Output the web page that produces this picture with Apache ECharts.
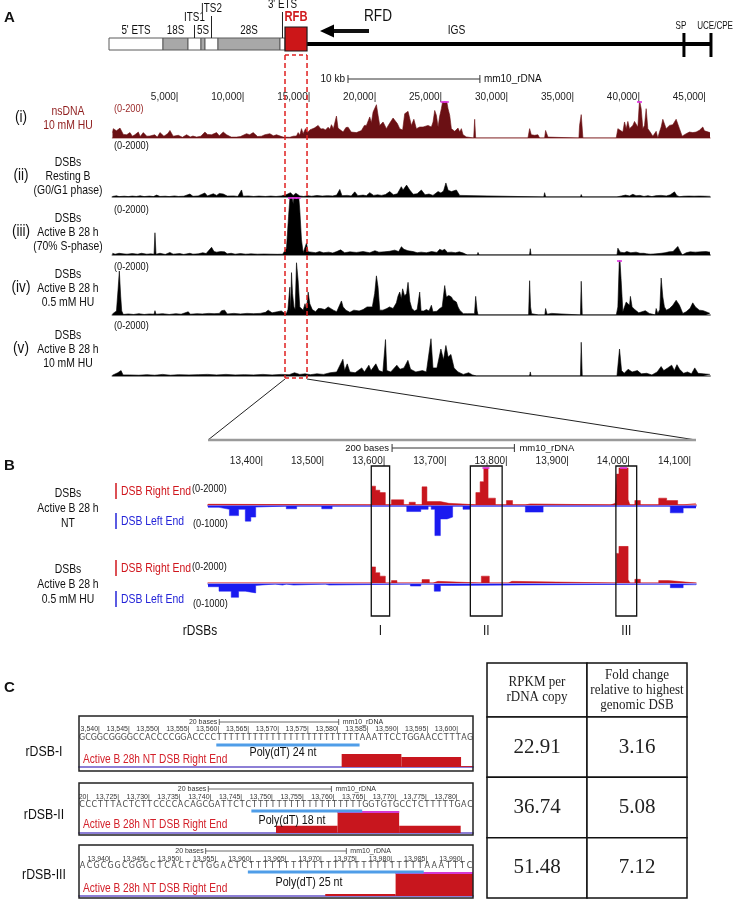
<!DOCTYPE html>
<html>
<head>
<meta charset="utf-8">
<title>rDNA DSBs</title>
<script src="https://cdn.jsdelivr.net/npm/echarts@6.0.0/dist/echarts.min.js"></script>
<style>
html,body{margin:0;padding:0;background:#ffffff;}
#chart{width:733px;height:900px;}
</style>
</head>
<body>
<div id="chart"></div>
<script>
const FONT = "'Liberation Sans', Arial, sans-serif";
const SERIF = "'Liberation Serif', 'Times New Roman', serif";
const SEQFONT = "'DejaVu Sans', 'Liberation Sans', sans-serif";

// ================= DATA =================
// Panel A: rDNA unit map (bp)
const rDNALength = 45306;
const schemName  = ["5' ETS", "18S", "ITS1", "5S", "ITS2", "28S", "3' ETS", "RFB"];
const schemStart = [-265, 3830, 5725, 6710, 7015, 8000, 12700, 13080];
const schemEnd   = [3830, 5725, 6710, 7015, 8000, 12700, 13080, 14750];
const schemKind  = ['spacer', 'rRNA', 'spacer', 'rRNA', 'spacer', 'rRNA', 'spacer', 'RFB'];
const igsSpan = [14750, 45380];
const elementName = ['SP', 'UCE/CPE'];
const elementPos  = [43330, 45380];

// Panel A tracks: [bp, signal]
const nsDNA_10mM_HU = [[0,30],[63,52],[300,40],[569,55],[821,20],[1074,18],[1200,8],[1326,30],[1500,10],[1700,18],[1957,33],[2100,8],[2336,30],[2600,10],[2841,11],[3200,18],[3400,5],[3599,30],[3900,10],[4200,25],[4356,42],[4600,10],[4987,15],[5300,4],[5619,18],[5900,6],[6100,11],[6376,5],[6700,10],[7007,33],[7200,20],[7512,18],[7891,30],[8100,12],[8396,33],[8649,18],[9000,5],[9406,5],[9700,8],[10164,24],[10400,18],[10668,30],[11000,8],[11300,10],[11552,18],[11931,24],[12200,12],[12436,18],[12941,5],[13446,4],[13700,10],[13951,11],[14077,30],[14200,15],[14330,52],[14456,24],[14633,52],[14800,30],[14961,45],[15300,55],[15592,70],[15800,50],[15971,52],[16150,45],[16350,60],[16480,48],[16602,74],[16750,52],[16981,122],[17100,55],[17486,33],[17700,58],[17865,60],[18100,33],[18496,30],[18875,41],[19100,70],[19254,70],[19506,117],[19630,85],[19759,144],[20011,185],[20137,126],[20264,70],[20516,89],[20769,52],[21000,80],[21274,111],[21400,122],[21600,80],[21779,52],[22000,44],[22157,135],[22300,125],[22410,148],[22663,70],[22850,104],[23041,52],[23296,61],[23549,61],[23675,52],[23927,70],[24180,61],[24306,89],[24432,153],[24559,126],[24685,61],[24811,122],[24937,163],[25064,215],[25316,215],[25442,163],[25569,126],[25695,52],[25821,61],[25947,37],[26074,43],[26200,55],[26326,33],[26453,52],[26579,18],[26831,6],[26957,0],[27387,0],[27462,104],[27538,0],[31502,0],[31628,52],[31755,18],[32007,15],[32260,18],[32386,0],[32765,0],[32840,42],[33017,5],[33093,0],[35365,0],[35416,70],[35542,130],[35669,0],[38194,0],[38320,52],[38446,61],[38699,33],[38825,89],[38951,52],[39077,92],[39204,52],[39456,70],[39582,92],[39709,98],[39835,61],[39962,210],[40088,163],[40214,52],[40340,70],[40466,163],[40592,52],[40769,33],[40970,10],[41097,0],[41223,37],[41349,0],[41476,33],[41602,61],[41728,104],[41981,52],[42234,70],[42486,74],[42739,104],[42991,52],[43193,10],[43294,0],[43496,24],[43749,33],[44001,30],[44254,33],[44506,43],[44759,61],[44885,40],[45306,30]];

const dsb_RestingB = [[0,20],[300,45],[500,15],[900,30],[1200,15],[1500,35],[1800,20],[2100,45],[2400,15],[2800,35],[3100,15],[3350,70],[3600,20],[4000,30],[4300,15],[4700,40],[5000,20],[5400,30],[5870,110],[6100,25],[6500,40],[7000,150],[7200,40],[7640,120],[7900,60],[8100,130],[8400,110],[8700,35],[9200,40],[9500,20],[9785,260],[9900,30],[10300,40],[10700,20],[11100,35],[11600,20],[12000,35],[12400,20],[12800,40],[13200,90],[13500,160],[13700,60],[13900,140],[14200,40],[14500,20],[14800,50],[15100,30],[15500,55],[15900,35],[16300,50],[16700,40],[17000,70],[17234,280],[17400,50],[17800,60],[18100,40],[18370,190],[18600,50],[19000,70],[19250,50],[19506,160],[19800,60],[20100,80],[20400,60],[20700,90],[21021,200],[21300,80],[21600,120],[21900,380],[22031,260],[22300,440],[22536,260],[22800,100],[23100,120],[23420,260],[23700,80],[24000,110],[24300,60],[24685,200],[24900,150],[25100,220],[25280,520],[25450,250],[25700,200],[25821,200],[26074,260],[26326,60],[26453,0],[32700,0],[32765,160],[32850,0],[35480,0],[35542,90],[35620,0],[38250,0],[38320,50],[38600,40],[38900,70],[39200,40],[39456,100],[39700,50],[40000,60],[40300,20],[40600,50],[40900,15],[41200,50],[41600,60],[42000,40],[42300,80],[42612,190],[42800,50],[43000,10],[43300,30],[43700,35],[44100,30],[44500,35],[44900,30],[45306,25]];

const dsb_ActiveB_Sphase = [[0,60],[200,30],[500,60],[800,40],[1100,30],[1500,50],[1900,30],[2200,60],[2600,30],[2900,40],[3150,30],[3220,780],[3300,30],[3600,60],[4000,20],[4350,90],[4600,30],[5100,50],[5400,20],[5870,60],[6100,30],[6500,40],[6850,80],[7100,50],[7512,270],[7700,120],[7900,100],[8200,120],[8500,110],[8700,40],[9000,60],[9300,30],[9700,50],[10100,30],[10500,40],[11000,30],[11500,35],[12000,30],[12500,25],[12900,30],[13193,240],[13350,1360],[13500,2300],[13700,1800],[13825,2300],[13951,2000],[14077,2300],[14200,1590],[14330,530],[14456,80],[14600,150],[14709,420],[14830,110],[15100,100],[15400,80],[15700,120],[16000,80],[16400,100],[16700,70],[17000,120],[17300,180],[17600,80],[18000,110],[18500,90],[19000,120],[19500,80],[19900,150],[20200,100],[20600,110],[21000,130],[21400,170],[21700,120],[21905,290],[22100,200],[22400,150],[22800,120],[23100,80],[23400,100],[23800,80],[24200,120],[24600,90],[24811,200],[25000,160],[25190,200],[25400,90],[25700,100],[26000,80],[26300,110],[26600,70],[26900,0],[27650,0],[27715,90],[27800,0],[31620,0],[31680,220],[31740,0],[32850,0],[32891,70],[32950,0],[35500,0],[35542,70],[35600,0],[38250,0],[38320,240],[38500,100],[38800,80],[39000,120],[39300,80],[39700,100],[40000,60],[40300,60],[40500,40],[40800,30],[41200,40],[41600,60],[41900,80],[42200,110],[42500,120],[42612,180],[42865,300],[43000,170],[43200,0],[43500,80],[43800,110],[44200,100],[44600,110],[45000,120],[45306,100]];

const dsb_ActiveB_05mM_HU = [[0,40],[300,150],[430,1000],[518,1630],[620,700],[700,150],[821,20],[1200,40],[1600,20],[2000,50],[2400,20],[2800,40],[3150,30],[3220,160],[3300,30],[3800,50],[4300,20],[4800,50],[5200,30],[5745,120],[5900,30],[6400,50],[6800,40],[7300,60],[7700,50],[8100,60],[8270,160],[8500,180],[8700,40],[9200,60],[9700,40],[10200,60],[10700,50],[11200,60],[11600,100],[11805,180],[11931,240],[12100,80],[12500,120],[12800,150],[13000,80],[13193,60],[13300,200],[13446,1030],[13510,150],[13572,1570],[13650,800],[13760,300],[13850,200],[13951,1935],[14077,1270],[14200,300],[14330,300],[14456,180],[14600,420],[14709,200],[14835,850],[14961,420],[15150,200],[15400,120],[15600,240],[15800,240],[16100,200],[16350,300],[16500,240],[16750,180],[17000,120],[17360,520],[17486,300],[17700,180],[18000,100],[18300,180],[18700,150],[19000,200],[19300,300],[19700,300],[19880,800],[20011,1450],[20137,1030],[20264,180],[20500,180],[20800,240],[21000,300],[21274,240],[21526,450],[21650,700],[21779,850],[21900,600],[22000,970],[22150,700],[22300,800],[22410,1210],[22550,500],[22700,240],[22900,150],[23100,200],[23293,850],[23400,150],[23600,150],[23800,200],[24000,150],[24180,360],[24300,120],[24600,140],[24811,240],[25000,300],[25190,1090],[25316,670],[25500,720],[25695,670],[25821,560],[26074,480],[26200,300],[26326,180],[26600,50],[26900,50],[27450,50],[27538,690],[27650,150],[27720,0],[31550,0],[31628,1270],[31700,300],[31780,50],[32000,30],[32300,0],[32780,0],[32840,240],[32950,30],[33100,0],[33300,60],[33400,0],[35480,0],[35542,1250],[35620,0],[38200,0],[38320,300],[38446,2300],[38570,1270],[38700,120],[38951,480],[39077,545],[39204,360],[39270,690],[39400,300],[39600,200],[39900,80],[40150,120],[40400,160],[40700,60],[40950,30],[41150,0],[41223,240],[41349,60],[41500,200],[41602,1370],[41728,670],[41850,300],[42000,180],[42234,240],[42486,360],[42739,545],[42864,570],[42991,360],[43244,60],[43500,120],[43800,250],[43997,450],[44200,300],[44500,180],[44800,160],[45000,120],[45306,60]];

const dsb_ActiveB_10mM_HU = [[0,30],[400,120],[650,200],[800,40],[1300,40],[2000,30],[2600,50],[3200,30],[3800,60],[4400,30],[5000,50],[5800,40],[6500,50],[7200,60],[7900,40],[8600,60],[9300,40],[10000,50],[10700,40],[11400,60],[12100,40],[12800,60],[13400,50],[13800,120],[14200,60],[14600,80],[15000,50],[15500,80],[16000,60],[16500,120],[17000,150],[17470,620],[17600,200],[17800,450],[18000,150],[18400,120],[18900,300],[19100,150],[19440,400],[19600,200],[19970,450],[20200,200],[20500,150],[20700,1350],[20800,200],[21100,150],[21560,400],[21800,250],[22100,300],[22400,580],[22600,250],[23000,150],[23500,200],[23800,150],[24150,1380],[24300,300],[24600,300],[24900,1000],[25100,600],[25280,1130],[25450,700],[25660,800],[25900,300],[26200,150],[26600,60],[27000,120],[27300,40],[27600,0],[31620,0],[31680,150],[31740,0],[35480,0],[35542,1250],[35620,0],[38250,0],[38446,1000],[38600,200],[38800,100],[39100,250],[39400,150],[39800,200],[40100,80],[40500,100],[40900,40],[41300,150],[41600,350],[41800,200],[42100,300],[42400,400],[42600,200],[42800,420],[43000,250],[43300,100],[43600,150],[43900,80],[44150,300],[44400,100],[44800,80],[45306,60]];

const trackRangeMax = [200, 2000, 2000, 2000, 2000];

// Panel B: zoom on RFB region, step data [bp, reads]
const zoomRange = [13310, 14108];
const rightEnd_NT = [[13310,40],[13319,0],[13578,1020],[13584,800],[13591,670],[13600,0],[13610,280],[13630,0],[13639,150],[13649,0],[13660,980],[13668,185],[13690,90],[13704,0],[13707,55],[13727,0],[13748,670],[13755,1260],[13761,2300],[13768,370],[13780,0],[13798,240],[13808,0],[13829,60],[13837,0],[13968,90],[13976,0],[13978,1670],[13982,2300],[13997,300],[14000,0],[14008,240],[14017,0],[14047,370],[14060,240],[14078,0],[14087,90],[14108,90]];
const leftEnd_NT = [[13310,37],[13328,90],[13345,260],[13360,90],[13371,410],[13380,300],[13388,30],[13391,0],[13438,75],[13455,0],[13496,75],[13513,0],[13635,150],[13658,90],[13670,0],[13675,90],[13681,800],[13690,350],[13701,300],[13710,0],[13727,90],[13739,0],[13829,165],[13858,0],[14066,185],[14087,55],[14108,55]];
const rightEnd_HU = [[13310,0],[13578,870],[13584,555],[13591,370],[13600,0],[13610,130],[13619,0],[13660,185],[13672,0],[13678,90],[13686,0],[13757,370],[13770,0],[13801,90],[13807,0],[13978,1600],[13982,1980],[13997,190],[14000,0],[14008,200],[14017,0],[14047,130],[14063,90],[14078,0],[14108,0]];
const leftEnd_HU = [[13310,74],[13328,195],[13348,360],[13360,195],[13371,240],[13388,40],[13391,0],[13420,30],[13432,0],[13438,30],[13450,0],[13502,30],[13508,0],[13641,55],[13658,0],[13680,195],[13690,40],[13708,0],[14066,100],[14087,20],[14108,0]];
const rDSBName  = ['I', 'II', 'III'];
const rDSBStart = [13577, 13739, 13977];
const rDSBEnd   = [13607, 13791, 14011];

// Panel C: base-level views
const seqStart = [13538, 13720, 13937];
const seqText = [
  'GCGGCGGGGCCACCCCGGACCCCTTTTTTTTTTTTTTTTTTTTTTTTAAATTCCTGGAACCTTTAG',
  'CCCTTTACTCTTCCCCACAGCGATTCTCTTTTTTTTTTTTTTTTTTGGTGTGCCTCTTTTTGAC',
  'ACGCGGCGGGCTCACTCTGGACTCTTTTTTTTTTTTTTTTTTTTTTTTTAAATTTC'
];
const polyTStart = [13561, 13748, 13961];
const polyTEnd   = [13584, 13765, 13985];
const polyTLabel = ['Poly(dT) 24 nt', 'Poly(dT) 18 nt', 'Poly(dT) 25 nt'];
const rightEndC = [
  [[13582, 13591, 59], [13592, 13601, 45], [13602, 13603, 4]],
  [[13752, 13761, 33], [13762, 13771, 120], [13772, 13781, 33]],
  [[13972, 13981, 8], [13982, 13992, 120]]
];
const cRowName = ['rDSB-I', 'rDSB-II', 'rDSB-III'];
const tableHeader = ['RPKM per\nrDNA copy', 'Fold change\nrelative to highest\ngenomic DSB'];
const rpkmPerCopy = [22.91, 36.74, 51.48];
const foldChange  = [3.16, 5.08, 7.12];

// ================= BUILD =================
const fmt = v => Math.round(v).toLocaleString('en-US');
const grids = [], xAxes = [], yAxes = [], series = [];
function addGrid(rect, xa, ya) {
  const i = grids.length;
  grids.push(Object.assign({show: false, containLabel: false, outerBoundsMode: 'none'}, rect));
  xAxes.push(Object.assign({gridIndex: i, type: 'value', axisLine: {show: false}, axisTick: {show: false}, axisLabel: {show: false}, splitLine: {show: false}}, xa));
  yAxes.push(Object.assign({gridIndex: i, type: 'value', show: false, min: 0, max: 1, splitLine: {show: false}}, ya));
  return i;
}
function textEl(x, y, text, o) {
  o = o || {};
  return {type: 'text', x: x, y: y, scaleX: o.sx || 1, scaleY: 1,
    style: {text: text, x: 0, y: 0, align: o.align || 'center', verticalAlign: 'middle',
      fontSize: o.size || 12, fontFamily: o.family || FONT, fontWeight: o.weight || 'normal', fill: o.color || '#111'}};
}

// ---- Panel A schematic ----
const A_L = 112.5, A_W = 597.5;
const LEADER_Y = {"ITS1": 18, "ITS2": 9, "3' ETS": 5};
const gSchem = addGrid({left: A_L, top: 20, width: A_W, height: 40}, {min: 0, max: rDNALength}, {});
series.push({
  type: 'custom', xAxisIndex: gSchem, yAxisIndex: gSchem, silent: true, z: 1,
  data: [igsSpan],
  renderItem(params, api) {
    const x0 = api.coord([api.value(0), 0])[0], x1 = api.coord([api.value(1), 0])[0];
    return {type: 'group', children: [
      {type: 'line', shape: {x1: x0, y1: 44, x2: x1, y2: 44}, style: {stroke: '#000', lineWidth: 4}},
      textEl(x0 + (x1 - x0) * 0.37, 31, 'IGS', {size: 12.5, sx: 0.82})
    ]};
  }
});
series.push({
  type: 'custom', xAxisIndex: gSchem, yAxisIndex: gSchem, silent: true, z: 2,
  data: schemName.map((n, i) => [schemStart[i], schemEnd[i]]),
  renderItem(params, api) {
    const i = params.dataIndex;
    const x0 = api.coord([api.value(0), 0])[0], x1 = api.coord([api.value(1), 0])[0];
    const cx = (x0 + x1) / 2, kind = schemKind[i], name = schemName[i];
    const ch = [];
    if (kind === 'RFB') {
      ch.push({type: 'rect', shape: {x: x0, y: 27, width: x1 - x0, height: 24}, style: {fill: '#cc1618', stroke: '#1a1a1a', lineWidth: 1.2}});
      ch.push(textEl(cx, 17, name, {size: 14, weight: 'bold', color: '#d01c1f', sx: 0.8}));
    } else {
      ch.push({type: 'rect', shape: {x: x0, y: 38, width: x1 - x0, height: 12}, style: {fill: kind === 'rRNA' ? '#a8a8a8' : '#ffffff', stroke: '#5a5a5a', lineWidth: 1}});
      const ly = LEADER_Y[name];
      if (ly !== undefined) {
        ch.push({type: 'line', shape: {x1: cx, y1: ly + 7, x2: cx, y2: 38}, style: {stroke: '#222', lineWidth: 1}});
        ch.push(textEl(cx, ly, name, {size: 12, sx: 0.82}));
      } else {
        ch.push(textEl(cx, 31, name, {size: 12, sx: 0.82}));
      }
    }
    return {type: 'group', children: ch};
  }
});
const elementLabelAlign = ['center', 'right'];
const elementLabelShift = [-3, 22];
series.push({
  type: 'custom', xAxisIndex: gSchem, yAxisIndex: gSchem, silent: true, z: 2,
  data: elementPos.map(p => [p]),
  renderItem(params, api) {
    const x = api.coord([api.value(0), 0])[0];
    const k = params.dataIndex;
    return {type: 'group', children: [
      {type: 'line', shape: {x1: x, y1: 33, x2: x, y2: 57}, style: {stroke: '#000', lineWidth: 3}},
      textEl(x + elementLabelShift[k], 26, elementName[k], {size: 11.5, sx: 0.7, align: elementLabelAlign[k]})
    ]};
  }
});

// ---- Panel A ruler ----
addGrid({left: A_L, top: 103, width: A_W, height: 1},
  {min: 0, max: rDNALength, position: 'top', minInterval: 5000, maxInterval: 5000, splitNumber: 9,
   axisLabel: {show: true, margin: 1, align: 'right', fontSize: 10, fontFamily: FONT, color: '#222',
     showMinLabel: false, showMaxLabel: false, formatter: v => fmt(v) + '|'}}, {});

// ---- Panel A tracks ----
const trackData = [nsDNA_10mM_HU, dsb_RestingB, dsb_ActiveB_Sphase, dsb_ActiveB_05mM_HU, dsb_ActiveB_10mM_HU];
const trackTop = [102, 143, 198, 261, 322];
const trackH   = [36, 54, 57, 54, 54];
const trackFill = ['#6b1014', '#000000', '#000000', '#000000', '#000000'];
const trackBase = ['#c39090', '#8a8a8a', '#8a8a8a', '#8a8a8a', '#8a8a8a'];
const trackGrid = [];
trackData.forEach((d, k) => {
  const g = addGrid({left: A_L, top: trackTop[k], width: A_W, height: trackH[k]},
    {min: 0, max: rDNALength, axisLine: {show: true, lineStyle: {color: trackBase[k], width: k === 0 ? 1.5 : 2}}},
    {min: 0, max: trackRangeMax[k]});
  trackGrid.push(g);
  series.push({type: 'line', xAxisIndex: g, yAxisIndex: g, data: d, symbol: 'none', silent: true, z: 3,
    lineStyle: {width: 0.6, color: trackFill[k]}, areaStyle: {color: trackFill[k], opacity: 1}});
  const clipped = d.filter(p => p[1] > trackRangeMax[k]).map(p => [p[0], trackRangeMax[k]]);
  if (clipped.length) series.push({type: 'scatter', xAxisIndex: g, yAxisIndex: g, data: clipped, symbol: 'rect',
    symbolSize: [5, 2], itemStyle: {color: '#e030e0'}, silent: true, z: 4});
});

// ---- Panel B ----
const B_L = 208, B_W = 488;
addGrid({left: B_L, top: 467, width: B_W, height: 1},
  {min: zoomRange[0], max: zoomRange[1], position: 'top', minInterval: 100, maxInterval: 100, splitNumber: 8,
   axisLabel: {show: true, margin: 1, align: 'right', fontSize: 10, fontFamily: FONT, color: '#222',
     showMinLabel: false, showMaxLabel: false, formatter: v => fmt(v) + '|'}}, {});
const bTracks = [
  {d: rightEnd_NT, top: 468, max: 2000, inv: false, fill: '#c8161e', line: '#e03434'},
  {d: leftEnd_NT,  top: 506, max: 1000, inv: true,  fill: '#1a1af0', line: '#6a6af5'},
  {d: rightEnd_HU, top: 546, max: 2000, inv: false, fill: '#c8161e', line: '#ef8c8c'},
  {d: leftEnd_HU,  top: 584, max: 1000, inv: true,  fill: '#1a1af0', line: '#8c8cf5'}
];
bTracks.forEach(t => {
  const g = addGrid({left: B_L, top: t.top, width: B_W, height: 37},
    {min: zoomRange[0], max: zoomRange[1], axisLine: {show: true, lineStyle: {color: t.line, width: 1.6}}},
    {min: 0, max: t.max, inverse: t.inv});
  series.push({type: 'line', step: 'end', xAxisIndex: g, yAxisIndex: g, data: t.d, symbol: 'none', silent: true, z: 3,
    lineStyle: {width: 0.5, color: t.fill}, areaStyle: {color: t.fill, opacity: 1}});
  const marks = [];
  t.d.forEach((p, i) => { if (p[1] > t.max && i + 1 < t.d.length) marks.push([(p[0] + t.d[i + 1][0]) / 2, t.max]); });
  if (marks.length) series.push({type: 'scatter', xAxisIndex: g, yAxisIndex: g, data: marks, symbol: 'rect',
    symbolSize: [7, 2], itemStyle: {color: '#e030e0'}, silent: true, z: 4});
});
const gBox = addGrid({left: B_L, top: 466, width: B_W, height: 150}, {min: zoomRange[0], max: zoomRange[1]}, {});
series.push({
  type: 'custom', xAxisIndex: gBox, yAxisIndex: gBox, silent: true, z: 5,
  data: rDSBName.map((n, i) => [rDSBStart[i], rDSBEnd[i]]),
  renderItem(params, api) {
    const x0 = api.coord([api.value(0), 0])[0], x1 = api.coord([api.value(1), 0])[0];
    const cs = params.coordSys;
    return {type: 'group', children: [
      {type: 'rect', shape: {x: x0, y: cs.y, width: x1 - x0, height: cs.height}, style: {fill: 'rgba(0,0,0,0)', stroke: '#111', lineWidth: 1.3}},
      textEl((x0 + x1) / 2, cs.y + cs.height + 15, rDSBName[params.dataIndex], {size: 14, sx: 0.85})
    ]};
  }
});

// ---- Panel C ----
const C_L = 79, C_W = 394;
const cBoxTop = [716, 783, 845], cBoxBottom = [771, 835, 898];
const cTickTop = [734, 802, 864], cLetterTop = [743, 810, 871];
const cFeatTop = [745, 811, 872], cFeatH = [22, 22, 24];
const cFeatGrid = [];
seqText.forEach((seq, i) => {
  const pos = seq.split('').map((c, k) => String(seqStart[i] + k));
  const band = C_W / seq.length;
  addGrid({left: C_L, top: cTickTop[i], width: C_W, height: 1},
    {type: 'category', data: pos, position: 'top', boundaryGap: true,
     axisLabel: {show: true, margin: 1, fontSize: 7, fontFamily: FONT, color: '#333', align: 'right',
       interval: (idx, val) => (Number(val) - 1) % 5 === 0,
       formatter: (val, idx) => {
         const s = fmt(Number(val) - 1) + '|';
         const n = Math.floor(((idx + 0.5) * band + 3) / 3.9);
         return n >= s.length ? s : (n > 1 ? s.slice(-n) : '');
       }}}, {});
  addGrid({left: C_L, top: cLetterTop[i], width: C_W, height: 1},
    {type: 'category', data: pos, position: 'top', boundaryGap: true,
     axisLabel: {show: true, margin: 1, interval: 0, fontSize: 8, fontFamily: SEQFONT, color: '#4a4a4a',
       formatter: (val, idx) => seq.charAt(idx)}}, {});
  const g = addGrid({left: C_L, top: cFeatTop[i], width: C_W, height: cFeatH[i]},
    {min: seqStart[i] - 0.5, max: seqStart[i] + seq.length - 0.5,
     axisLine: {show: true, onZero: true, lineStyle: {color: '#8d7fd6', width: 2}}},
    {min: 0, max: 100});
  cFeatGrid.push(g);
  series.push({
    type: 'custom', xAxisIndex: g, yAxisIndex: g, silent: true, z: 3,
    data: rightEndC[i],
    renderItem(params, api) {
      const v = api.value(2);
      const p0 = api.coord([api.value(0) - 0.5, Math.min(v, 100)]);
      const p1 = api.coord([api.value(1) + 0.5, 0]);
      const ch = [{type: 'rect', shape: {x: p0[0], y: p0[1], width: p1[0] - p0[0], height: p1[1] - p0[1]}, style: {fill: '#c8161e'}}];
      if (v > 100) ch.push({type: 'rect', shape: {x: p0[0], y: p0[1], width: p1[0] - p0[0], height: 2}, style: {fill: '#d43ad4'}});
      return {type: 'group', children: ch};
    }
  });
  series.push({
    type: 'custom', xAxisIndex: g, yAxisIndex: g, silent: true, z: 4,
    data: [[polyTStart[i], polyTEnd[i]]],
    renderItem(params, api) {
      const x0 = api.coord([api.value(0) - 0.5, 0])[0], x1 = api.coord([api.value(1) + 0.5, 0])[0];
      return {type: 'rect', shape: {x: x0, y: params.coordSys.y - 1.5, width: x1 - x0, height: 3}, style: {fill: '#4f9de8'}};
    }
  });
});

// ---- Table ----
const gTH = addGrid({left: 487, top: 663, width: 200, height: 54},
  {type: 'category', data: ['RPKM', 'Fold'], show: false}, {type: 'category', data: ['header'], min: null, max: null});
series.push({
  type: 'custom', xAxisIndex: gTH, yAxisIndex: gTH, silent: true,
  data: tableHeader.map((t, i) => [i, 0]),
  renderItem(params, api) {
    const c = api.coord([api.value(0), api.value(1)]), s = api.size([1, 1]);
    const lines = tableHeader[params.dataIndex].split('\n');
    const ch = [{type: 'rect', shape: {x: c[0] - s[0] / 2, y: c[1] - s[1] / 2, width: s[0], height: s[1]}, style: {fill: '#fff', stroke: '#111', lineWidth: 1.5}}];
    lines.forEach((ln, k) => ch.push(textEl(c[0], c[1] + (k - (lines.length - 1) / 2) * 15, ln, {size: 14, sx: 0.93, family: SERIF, color: '#222'})));
    return {type: 'group', children: ch};
  }
});
const gTB = addGrid({left: 487, top: 717, width: 200, height: 181},
  {type: 'category', data: ['RPKM', 'Fold'], show: false}, {type: 'category', data: cRowName, inverse: true, min: null, max: null});
const tableCells = [];
rpkmPerCopy.forEach((v, r) => { tableCells.push([0, r, v]); tableCells.push([1, r, foldChange[r]]); });
series.push({
  type: 'custom', xAxisIndex: gTB, yAxisIndex: gTB, silent: true,
  data: tableCells,
  renderItem(params, api) {
    const c = api.coord([api.value(0), api.value(1)]), s = api.size([1, 1]);
    return {type: 'group', children: [
      {type: 'rect', shape: {x: c[0] - s[0] / 2, y: c[1] - s[1] / 2, width: s[0], height: s[1]}, style: {fill: '#fff', stroke: '#111', lineWidth: 1.5}},
      textEl(c[0], c[1], api.value(2).toFixed(2), {size: 21, family: SERIF, color: '#222'})
    ]};
  }
});

const chart = echarts.init(document.getElementById('chart'), null, {width: 733, height: 900, renderer: 'canvas'});
chart.setOption({animation: false, backgroundColor: '#ffffff', grid: grids, xAxis: xAxes, yAxis: yAxes, series: series});

// ================= ANNOTATIONS =================
const G = [];
function T(x, y, text, o) {
  o = o || {};
  G.push({type: 'text', x: x, y: y, scaleX: o.sx || 1, scaleY: 1, z: 100, silent: true, style: {text: text, x: 0, y: 0, fill: o.color || '#111',
    fontSize: o.size || 12, fontFamily: o.family || FONT, fontWeight: o.weight || 'normal',
    align: o.align || 'center', verticalAlign: 'middle', textAlign: o.align || 'center', textVerticalAlign: 'middle'}});
}
function L(x1, y1, x2, y2, o) {
  o = o || {};
  G.push({type: 'line', z: 100, silent: true, shape: {x1: x1, y1: y1, x2: x2, y2: y2},
    style: {stroke: o.color || '#111', lineWidth: o.width || 1, lineDash: o.dash || null}});
}
const pxA = v => chart.convertToPixel({xAxisIndex: trackGrid[4]}, v);
const pxB = v => chart.convertToPixel({xAxisIndex: gBox}, v);
const pxC = (i, v) => chart.convertToPixel({xAxisIndex: cFeatGrid[i]}, v);
const SQ = 0.8;

// Panel A
T(4, 18, 'A', {weight: 'bold', size: 15, align: 'left'});
T(378, 17, 'RFD', {size: 16, sx: 0.85});
L(333, 31, 369, 31, {width: 4});
G.push({type: 'polygon', z: 100, silent: true, shape: {points: [[320, 31], [334, 24.5], [334, 37.5]]}, style: {fill: '#000'}});
const kb0 = pxA(17857), kb1 = pxA(27857);
L(kb0, 79, kb1, 79, {width: 1, color: '#333'});
L(kb0, 75, kb0, 83, {color: '#333'}); L(kb1, 75, kb1, 83, {color: '#333'});
T(kb0 - 3, 79, '10 kb', {size: 10, align: 'right'});
T(kb1 + 4, 79, 'mm10_rDNA', {size: 10, align: 'left'});
const aLabels = [
  {roman: '(i)',   lines: ['nsDNA', '10 mM HU'], color: '#8f1d1d', range: '(0-200)', cy: 118, ry: 109},
  {roman: '(ii)',  lines: ['DSBs', 'Resting B', '(G0/G1 phase)'], color: '#111', range: '(0-2000)', cy: 176, ry: 146},
  {roman: '(iii)', lines: ['DSBs', 'Active B 28 h', '(70% S-phase)'], color: '#111', range: '(0-2000)', cy: 232, ry: 210},
  {roman: '(iv)',  lines: ['DSBs', 'Active B 28 h', '0.5 mM HU'], color: '#111', range: '(0-2000)', cy: 288, ry: 267},
  {roman: '(v)',   lines: ['DSBs', 'Active B 28 h', '10 mM HU'], color: '#111', range: '(0-2000)', cy: 349, ry: 326}
];
aLabels.forEach(l => {
  T(21, l.cy, l.roman, {size: 16, sx: 0.85});
  l.lines.forEach((s, k) => T(68, l.cy + (k - (l.lines.length - 1) / 2) * 14, s, {size: 13, sx: SQ, color: l.color}));
  T(114, l.ry, l.range, {size: 11.5, sx: SQ, align: 'left', color: l.color === '#111' ? '#111' : '#9b2a2a'});
});
const rx0 = pxA(13080), rx1 = pxA(14750);
L(rx0, 55, rx1, 55, {color: '#e02020', width: 1.5, dash: [4, 3]});
L(rx0, 55, rx0, 378, {color: '#e02020', width: 1.5, dash: [5, 3]});
L(rx1, 55, rx1, 378, {color: '#e02020', width: 1.5, dash: [5, 3]});
L(rx0, 378, rx1, 378, {color: '#e02020', width: 1.5, dash: [4, 3]});
L(rx0, 379, B_L, 440, {color: '#222', width: 1});
L(rx1, 379, B_L + B_W, 440, {color: '#222', width: 1});
L(B_L, 440, B_L + B_W, 440, {color: '#9a9a9a', width: 2.5});

// Panel B
T(4, 466, 'B', {weight: 'bold', size: 15, align: 'left'});
const bb0 = pxB(13611), bb1 = pxB(13811);
L(bb0, 448, bb1, 448, {color: '#333'});
L(bb0, 444, bb0, 452, {color: '#333'}); L(bb1, 444, bb1, 452, {color: '#333'});
T(bb0 - 3, 448, '200 bases', {size: 9.5, align: 'right'});
T(bb1 + 5, 448, 'mm10_rDNA', {size: 9.5, align: 'left'});
const bLabels = [
  {lines: ['DSBs', 'Active B 28 h', 'NT'], cy: 508, ry: 491, ly: 521, r1: 489, r2: 524},
  {lines: ['DSBs', 'Active B 28 h', '0.5 mM HU'], cy: 584, ry: 568, ly: 599, r1: 567, r2: 604}
];
bLabels.forEach(l => {
  l.lines.forEach((s, k) => T(68, l.cy + (k - 1) * 15, s, {size: 13, sx: SQ}));
  L(116, l.ry - 8, 116, l.ry + 8, {color: '#d0161d', width: 1.5});
  T(121, l.ry, 'DSB Right End', {size: 13, sx: SQ, align: 'left', color: '#d0161d'});
  L(116, l.ly - 8, 116, l.ly + 8, {color: '#2424d8', width: 1.5});
  T(121, l.ly, 'DSB Left End', {size: 13, sx: SQ, align: 'left', color: '#2424d8'});
  T(192, l.r1, '(0-2000)', {size: 11.5, sx: SQ, align: 'left'});
  T(193, l.r2, '(0-1000)', {size: 11.5, sx: SQ, align: 'left'});
});
T(200, 631, 'rDSBs', {size: 14, sx: 0.85});

// Panel C
T(4, 688, 'C', {weight: 'bold', size: 15, align: 'left'});
const cLabelY = [752, 815, 875];
const cRulerStart = [13561, 13740.5, 13954.5];
const cPolyLabelX = [283, 292, 309];
const cPolyLabelY = [752, 820, 882];
const cRedY = [759, 824, 888];
seqText.forEach((s, i) => {
  G.push({type: 'rect', z: 90, silent: true, shape: {x: C_L, y: cBoxTop[i], width: C_W, height: cBoxBottom[i] - cBoxTop[i]},
    style: {fill: 'rgba(0,0,0,0)', stroke: '#222', lineWidth: 1.5}});
  T(44, cLabelY[i], cRowName[i], {size: 14, sx: 0.88});
  const r0 = pxC(i, cRulerStart[i]), r1 = pxC(i, cRulerStart[i] + 20);
  const ry = cBoxTop[i] + 6;
  L(r0, ry, r1, ry, {color: '#444', width: 0.8});
  L(r0, ry - 3, r0, ry + 3, {color: '#444', width: 0.8}); L(r1, ry - 3, r1, ry + 3, {color: '#444', width: 0.8});
  T(r0 - 2, ry, '20 bases', {size: 7, align: 'right', color: '#333'});
  T(r1 + 4, ry, 'mm10_rDNA', {size: 7, align: 'left', color: '#333'});
  T(cPolyLabelX[i], cPolyLabelY[i], polyTLabel[i], {size: 13, sx: 0.82});
  T(83, cRedY[i], 'Active B 28h NT DSB Right End', {size: 13, sx: 0.78, align: 'left', color: '#d3202a'});
});

chart.setOption({graphic: {elements: G}});
</script>
</body>
</html>
